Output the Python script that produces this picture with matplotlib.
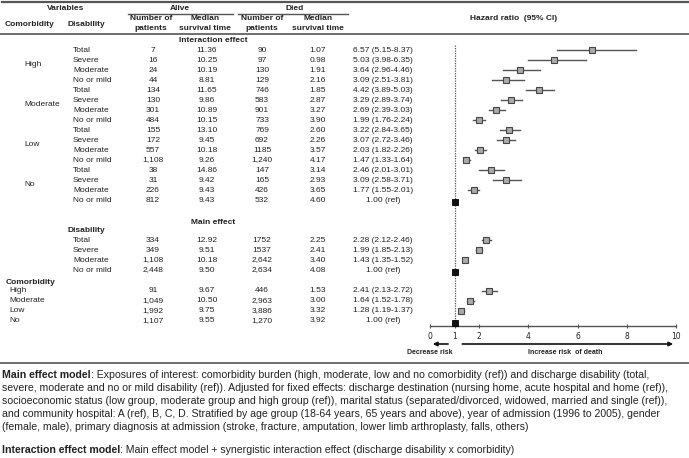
import matplotlib
matplotlib.use("Agg")
import matplotlib.pyplot as plt

# interaction effect rows
groups = ["High", "Moderate", "Low", "No"]
disab = ["Total", "Severe", "Moderate", "No or mild"]
alive_n = ["7", "16", "24", "44", "134", "130", "301", "484",
           "155", "172", "557", "1,108", "38", "31", "226", "812"]
alive_med = ["11.36", "10.25", "10.19", "8.81", "11.65", "9.86", "10.89", "10.15",
             "13.10", "9.45", "10.18", "9.26", "14.86", "9.42", "9.43", "9.43"]
died_n = ["90", "97", "130", "129", "746", "583", "901", "733",
          "769", "692", "1185", "1,240", "147", "165", "426", "532"]
died_med = ["1.07", "0.98", "1.91", "2.16", "1.85", "2.87", "3.27", "3.90",
            "2.60", "2.26", "3.57", "4.17", "3.14", "2.93", "3.65", "4.60"]
hr = [6.57, 5.03, 3.64, 3.09, 4.42, 3.29, 2.69, 1.99,
      3.22, 3.07, 2.03, 1.47, 2.46, 3.09, 1.77, 1.00]
lo = [5.15, 3.98, 2.96, 2.51, 3.89, 2.89, 2.39, 1.76,
      2.84, 2.72, 1.82, 1.33, 2.01, 2.58, 1.55, None]
hi = [8.37, 6.35, 4.46, 3.81, 5.03, 3.74, 3.03, 2.24,
      3.65, 3.46, 2.26, 1.64, 3.01, 3.71, 2.01, None]

# main effect: disability
d_alive_n = ["334", "349", "1,108", "2,448"]
d_alive_med = ["12.92", "9.51", "10.18", "9.50"]
d_died_n = ["1752", "1537", "2,642", "2,634"]
d_died_med = ["2.25", "2.41", "3.40", "4.08"]
d_hr = [2.28, 1.99, 1.43, 1.00]
d_lo = [2.12, 1.85, 1.35, None]
d_hi = [2.46, 2.13, 1.52, None]

# main effect: comorbidity
c_alive_n = ["91", "1,049", "1,992", "1,107"]
c_alive_med = ["9.67", "10.50", "9.75", "9.55"]
c_died_n = ["446", "2,963", "3,886", "1,270"]
c_died_med = ["1.53", "3.00", "3.32", "3.92"]
c_hr = [2.41, 1.64, 1.28, 1.00]
c_lo = [2.13, 1.52, 1.19, None]
c_hi = [2.72, 1.78, 1.37, None]

ticks = [0, 1, 2, 4, 6, 8, 10]

W, H = 689, 458
fnt = "Liberation Sans"
fs = 6
col = "#222222"
rule = "#555555"

fig = plt.figure(figsize=(W / 100, H / 100), dpi=100)
ax = fig.add_axes([0, 0, 1, 1])
ax.set_xlim(0, W)
ax.set_ylim(H, 0)
ax.axis("off")

def t(x, y, s, ha="left", bold=False, size=fs):
    return ax.text(x, y, s, ha=ha, va="center", fontsize=size, family=fnt,
                   fontweight="bold" if bold else "normal", color=col)

# header
ax.plot([2, W], [1.5, 1.5], color=rule, lw=1.6)
ax.plot([0, W], [34, 34], color=rule, lw=1.2)
ax.plot([128, 233], [13.5, 13.5], color=rule, lw=1)
ax.plot([238, 348], [13.5, 13.5], color=rule, lw=1)
t(66, 8, "Variables", "center", True)
t(180, 8, "Alive", "center", True)
t(295, 8, "Died", "center", True)
t(5, 24, "Comorbidity", bold=True)
t(68, 24, "Disability", bold=True)
for cx in (151, 262):
    t(cx, 18.5, "Number of", "center", True)
    t(cx, 29, "patients", "center", True)
for cx in (205, 318):
    t(cx, 18.5, "Median", "center", True)
    t(cx, 29, "survival time", "center", True)
t(514, 18, "Hazard ratio  (95% CI)", "center", True)

xs = [153, 207, 262, 318]

def ci_txt(h, l, u):
    if l is None:
        return "%.2f (ref)" % h
    return "%.2f (%.2f-%.2f)" % (h, l, u)

# interaction effect
t(213, 40, "Interaction effect", "center", True)
row_y = [50 + 10 * i for i in range(16)]
for g, name in enumerate(groups):
    t(24, row_y[4 * g] + 15, name)
for i, y in enumerate(row_y):
    t(73, y, disab[i % 4])
    for x, v in zip(xs, (alive_n[i], alive_med[i], died_n[i], died_med[i])):
        t(x, y, v, "center")
    t(383, y, ci_txt(hr[i], lo[i], hi[i]), "center")

# main effect
t(213, 222, "Main effect", "center", True)
t(68, 231, "Disability", bold=True)
d_y = [240 + 10 * i for i in range(4)]
for i, y in enumerate(d_y):
    t(73, y, disab[i])
    for x, v in zip(xs, (d_alive_n[i], d_alive_med[i], d_died_n[i], d_died_med[i])):
        t(x, y, v, "center")
    t(383, y, ci_txt(d_hr[i], d_lo[i], d_hi[i]), "center")

t(6, 282, "Comorbidity", bold=True)
c_y = [291 + 10 * i for i in range(4)]
for i, y in enumerate(c_y):
    t(9, y, groups[i])
    for x, v in zip(xs, (c_alive_n[i], c_alive_med[i], c_died_n[i], c_died_med[i])):
        t(x, y, v, "center")
    t(383, y, ci_txt(c_hr[i], c_lo[i], c_hi[i]), "center")

# forest plot
y0, y1 = 40, 326
fx = fig.add_axes([430 / W, (H - y1) / H, (676 - 430) / W, (y1 - y0) / H])
fx.set_xlim(0, 10)
fx.set_ylim(y1, y0)
fx.patch.set_alpha(0)
for s in ("top", "right", "left"):
    fx.spines[s].set_visible(False)
fx.spines["bottom"].set_color(rule)
fx.spines["bottom"].set_linewidth(1)
fx.set_yticks([])
fx.set_xticks(ticks)
fx.tick_params(axis="x", length=3, width=0.8, direction="inout", color=rule,
               labelsize=5.5, pad=3, labelcolor=col)
fx.vlines(1, 45, y1, colors=rule, linestyles=(0, (1, 1)), lw=0.9)

all_y = row_y + d_y + c_y
all_hr = hr + d_hr + c_hr
all_lo = lo + d_lo + c_lo
all_hi = hi + d_hi + c_hi
for y, h, l, u in zip(all_y, all_hr, all_lo, all_hi):
    if l is None:
        fx.plot(h, y + 2, "s", ms=4.6, mfc="#111111", mec="#000000", mew=0.6, zorder=4)
    else:
        fx.plot([l, u], [y, y], color=rule, lw=1.0, zorder=2)
        fx.plot(h, y, "s", ms=3.7, mfc="#aaaaaa", mec="#444444", mew=0.8, zorder=3)

fx.annotate("", xy=(0, 344), xytext=(0.85, 344),
            arrowprops=dict(arrowstyle="-|>", color="#111111", lw=1.2, mutation_scale=6),
            annotation_clip=False)
fx.annotate("", xy=(10, 344), xytext=(1.2, 344),
            arrowprops=dict(arrowstyle="-|>", color="#111111", lw=1.2, mutation_scale=6),
            annotation_clip=False)
fx.text(0, 353, "Decrease risk", ha="center", va="center", fontsize=5,
        fontweight="bold", family=fnt, color=col, clip_on=False)
fx.text(5.5, 353, "Increase risk  of death", ha="center", va="center", fontsize=5,
        fontweight="bold", family=fnt, color=col, clip_on=False)

ax.plot([0, W], [363, 363], color=rule, lw=1.2)

# footnote
nfam = "Liberation Sans"
nfs = 7.6
notes = [
    ("Main effect model", ": Exposures of interest: comorbidity burden (high, moderate, low and no comorbidity (ref)) and discharge disability (total,", 375),
    ("", "severe, moderate and no or mild disability (ref)). Adjusted for fixed effects: discharge destination (nursing home, acute hospital and home (ref)),", 388),
    ("", "socioeconomic status (low group, moderate group and high group (ref)), marital status (separated/divorced, widowed, married and single (ref)),", 401),
    ("", "and community hospital: A (ref), B, C, D. Stratified by age group (18-64 years, 65 years and above), year of admission (1996 to 2005), gender", 414),
    ("", "(female, male), primary diagnosis at admission (stroke, fracture, amputation, lower limb arthroplasty, falls, others)", 427),
    ("Interaction effect model", ": Main effect model + synergistic interaction effect (discharge disability x comorbidity)", 450),
]
fig.canvas.draw()
r = fig.canvas.get_renderer()
for b, rest, y in notes:
    x = 2
    if b:
        bt = ax.text(x, y, b, ha="left", va="center", fontsize=nfs, family=nfam,
                     fontweight="bold", color=col)
        x = bt.get_window_extent(r).x1
    ax.text(x, y, rest, ha="left", va="center", fontsize=nfs, family=nfam, color=col)

fig.savefig("out.png", dpi=100)
